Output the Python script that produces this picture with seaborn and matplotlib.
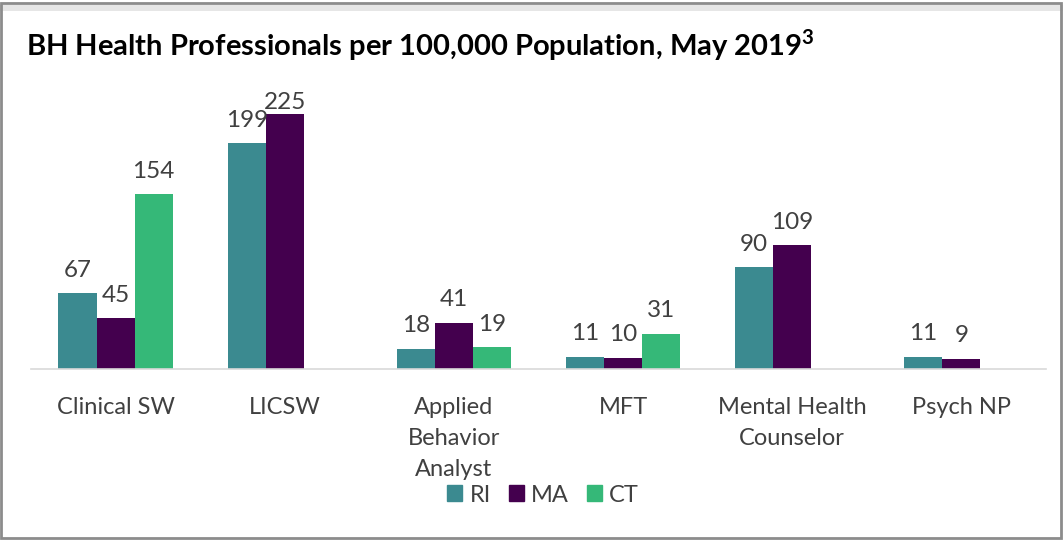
import matplotlib
matplotlib.use("Agg")
import matplotlib.pyplot as plt
import seaborn as sns
import pandas as pd
import numpy as np
from matplotlib.patches import Rectangle

categories = ["Clinical SW", "LICSW", "Applied\nBehavior\nAnalyst", "MFT", "Mental Health\nCounselor", "Psych NP"]
states = ["RI", "MA", "CT"]
ri_values = [67, 199, 18, 11, 90, 11]
ma_values = [45, 225, 41, 10, 109, 9]
ct_values = [154, np.nan, 19, 31, np.nan, np.nan]
colors = ["#3b8a90", "#44004e", "#35b878"]

rows = []
for st, vals in zip(states, [ri_values, ma_values, ct_values]):
    for c, v in zip(categories, vals):
        rows.append({"category": c, "state": st, "value": v})
df = pd.DataFrame(rows)

sns.set_theme(style="white")
plt.rcParams['font.family'] = ['Lato', 'DejaVu Sans']
plt.rcParams['mathtext.fontset'] = 'custom'
plt.rcParams['mathtext.bf'] = 'Lato:bold'
plt.rcParams['mathtext.rm'] = 'Lato'

fig = plt.figure(figsize=(10.63, 5.41), dpi=100)
ax = fig.add_axes([31/1063, (541-369)/541, 1015/1063, 279/541])

sns.barplot(data=df, x="category", y="value", hue="state", order=categories,
            hue_order=states, palette=colors, width=0.675, gap=0, dodge=True,
            errorbar=None, saturation=1, ax=ax, legend=False, edgecolor="none")

ymax = 279/1.1333
for cont in ax.containers:
    labels = [("" if np.isnan(v) else f"{int(v)}") for v in cont.datavalues]
    anns = ax.bar_label(cont, labels=labels, padding=9, fontsize=17.5, color="#404040")
    for ann, v in zip(anns, cont.datavalues):
        if not np.isnan(v) and v > 0.9 * ymax:
            ann.xyann = (0, 1)

ax.set_xlim(-0.5, 5.5)
ax.set_ylim(0, ymax)
ax.set_xlabel("")
ax.set_ylabel("")
ax.set_yticks([])
for s in ["top", "right", "left"]:
    ax.spines[s].set_visible(False)
ax.spines["bottom"].set_color("#d9d9d9")
ax.spines["bottom"].set_linewidth(1.2)
ax.tick_params(axis="x", length=0, pad=20, labelsize=17, labelcolor="#404040")
for t in ax.get_xticklabels():
    t.set_linespacing(1.6)
    t.set_verticalalignment("top")

handles = [Rectangle((0, 0), 1, 1, color=c) for c in colors]
fig.legend(handles, states, loc="center", bbox_to_anchor=(543/1063, 1-495/541),
           ncol=3, frameon=False, fontsize=17, handlelength=0.65, handleheight=0.65,
           handletextpad=0.3, columnspacing=0.75, labelcolor="#404040")

fig.text(26/1063, 1-45/541, r"BH Health Professionals per 100,000 Population, May 2019$^{\mathbf{3}}$",
         fontsize=21, fontweight="bold", color="black", va="center", ha="left")

fig.patches.append(Rectangle((0, 530/541), 1, 6/541, transform=fig.transFigure,
                             facecolor="#e6e6e6", edgecolor="none", zorder=5))
fig.patches.append(Rectangle((1/1063, 3/541), 1060/1063, 535/541, transform=fig.transFigure,
                             fill=False, edgecolor="#8c8c8c", linewidth=2, zorder=6))

fig.savefig("out.png", dpi=100, facecolor="white")
